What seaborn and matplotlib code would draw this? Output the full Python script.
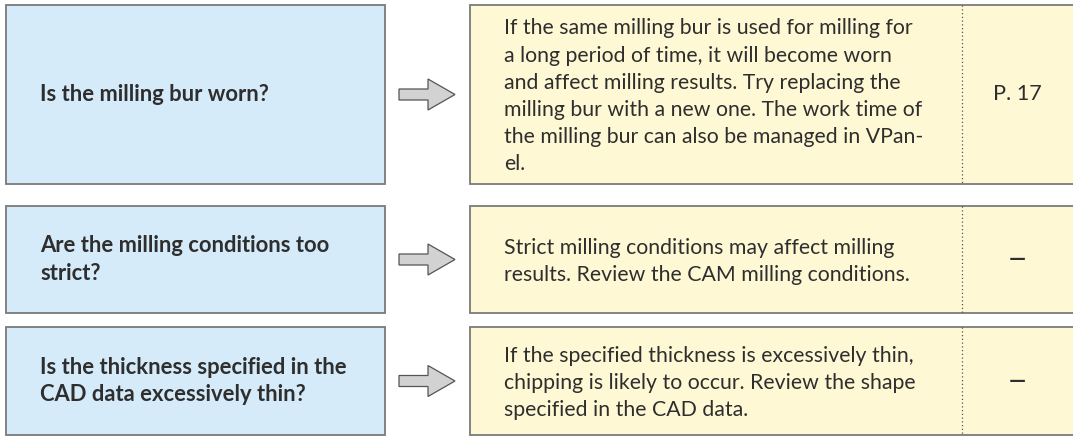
"""Troubleshooting table: question -> cause/remedy -> page reference."""

import matplotlib.pyplot as plt
import seaborn as sns
from matplotlib.patches import FancyArrow, Rectangle

questions = [
    "Is the milling bur worn?",
    "Are the milling conditions too\nstrict?",
    "Is the thickness specified in the\nCAD data excessively thin?",
]
answers = [
    "If the same milling bur is used for milling for\n"
    "a long period of time, it will become worn\n"
    "and affect milling results. Try replacing the\n"
    "milling bur with a new one. The work time of\n"
    "the milling bur can also be managed in VPan-\n"
    "el.",
    "Strict milling conditions may affect milling\n"
    "results. Review the CAM milling conditions.",
    "If the specified thickness is excessively thin,\n"
    "chipping is likely to occur. Review the shape\n"
    "specified in the CAD data.",
]
refs = ["P. 17", "—", "—"]

# layout in pixels (top, bottom) per row
ROWS = [(5, 184), (206, 313), (327, 435)]
ANSWER_X = 504
LEFT_X0, LEFT_X1 = 6, 385
RIGHT_X0, RIGHT_X1 = 470, 1090
SPLIT_X = 962
W, H = 1073, 437

BLUE = "#d5ebf9"
YELLOW = "#fff8d5"
EDGE = "#7a7a7a"
TEXT = "#2e2e2e"


def main() -> None:
    sns.set_theme(style="white")
    plt.rcParams["font.family"] = ["Lato", "DejaVu Sans"]

    fig = plt.figure(figsize=(W / 100, H / 100), dpi=100)
    ax = fig.add_axes([0, 0, 1, 1])
    ax.set_xlim(0, W)
    ax.set_ylim(H, 0)
    ax.axis("off")

    for i, (top, bottom) in enumerate(ROWS):
        mid = (top + bottom) / 2
        ax.add_patch(Rectangle((LEFT_X0, top), LEFT_X1 - LEFT_X0, bottom - top,
                               facecolor=BLUE, edgecolor=EDGE, linewidth=1.3))
        ax.add_patch(Rectangle((RIGHT_X0, top), RIGHT_X1 - RIGHT_X0, bottom - top,
                               facecolor=YELLOW, edgecolor=EDGE, linewidth=1.3))
        ax.plot([SPLIT_X, SPLIT_X], [top, bottom], color="#555555",
                linestyle=(0, (1, 2)), linewidth=0.9)

        ax.add_patch(FancyArrow(399, mid, 56, 0, width=11, head_width=31,
                                head_length=27, length_includes_head=True,
                                facecolor="#d2d2d2", edgecolor="#555555", linewidth=0.9))

        ax.text(40, mid, questions[i], ha="left", va="center", fontsize=15.8,
                fontweight="bold", color=TEXT, linespacing=1.38)
        ax.text(ANSWER_X, mid + 2, answers[i], ha="left", va="center", fontsize=15.3,
                color=TEXT, linespacing=1.45)
        ax.text((SPLIT_X + W) / 2, mid, refs[i], ha="center", va="center",
                fontsize=15.6, color=TEXT, fontweight="bold" if refs[i] == "—" else "normal")

    fig.savefig("out.png", dpi=100)
    plt.close(fig)


if __name__ == "__main__":
    main()
